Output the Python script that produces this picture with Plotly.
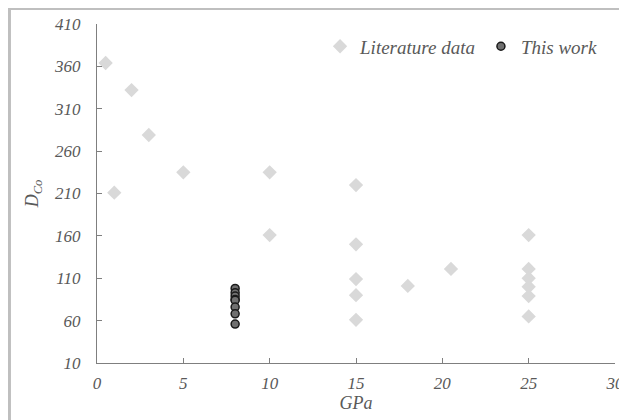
import plotly.graph_objects as go

# Literature data
lit_gpa = [0.5, 1, 2, 3, 5, 10, 10, 15, 15, 15, 15, 15, 18, 20.5, 25, 25, 25, 25, 25, 25]
lit_dco = [364, 211, 332, 279, 235, 235, 161, 220, 150, 109, 90, 61, 101, 121, 161, 121, 110, 100, 89, 65]

# This work
work_gpa = [8, 8, 8, 8, 8, 8, 8, 8]
work_dco = [98, 93, 89, 85, 84, 76, 68, 56]

x_ticks = [0, 5, 10, 15, 20, 25, 30]
y_ticks = [10, 60, 110, 160, 210, 260, 310, 360, 410]

FONT = "Liberation Serif"
GRAY_TXT = "#595959"
AXIS = "#7f7f7f"

fig = go.Figure()
fig.add_trace(go.Scatter(
    x=lit_gpa, y=lit_dco, mode="markers", name="Literature data",
    marker=dict(symbol="diamond", size=11, color="#d9d9d9", line=dict(width=0)),
))
fig.add_trace(go.Scatter(
    x=work_gpa, y=work_dco, mode="markers", name="This work",
    marker=dict(symbol="circle", size=8, color="#707070", line=dict(width=1.5, color="#1a1a1a")),
))

fig.update_layout(
    width=627, height=420,
    margin=dict(l=89, r=20, t=16, b=65, autoexpand=False),
    paper_bgcolor="white", plot_bgcolor="white",
    showlegend=True,
    legend=dict(orientation="h", x=0.975, xanchor="right", y=0.99, yanchor="top",
                font=dict(family=FONT, size=19, color=GRAY_TXT, style="italic"),
                bgcolor="rgba(0,0,0,0)", itemwidth=30, tracegroupgap=0),
    font=dict(family=FONT, color=GRAY_TXT),
    shapes=[dict(type="rect", xref="paper", yref="paper",
                 x0=-0.169, x1=1.036, y0=-0.187, y1=1.0457,
                 line=dict(color="#bfbfbf", width=3), fillcolor="rgba(0,0,0,0)", layer="below")],
)
fig.update_xaxes(
    range=[0, 30], tickvals=x_ticks, ticktext=[str(v) for v in x_ticks],
    showgrid=False, zeroline=False, showline=True, linecolor=AXIS, linewidth=1.3,
    ticks="inside", ticklen=5, tickcolor=AXIS, tickwidth=1, ticklabelstandoff=4,
    ticklabeloverflow="allow",
    tickfont=dict(family=FONT, size=17, color=GRAY_TXT, style="italic"),
    title=dict(text="GPa", font=dict(family=FONT, size=18, color=GRAY_TXT, style="italic"), standoff=4),
)
fig.update_yaxes(
    range=[10, 410], tickvals=y_ticks, ticktext=[str(v) for v in y_ticks],
    showgrid=False, zeroline=False, showline=True, linecolor=AXIS, linewidth=1.3,
    ticks="inside", ticklen=5, tickcolor=AXIS, tickwidth=1, ticklabelstandoff=12,
    tickfont=dict(family=FONT, size=17, color=GRAY_TXT, style="italic"),
    title=dict(text="D<sub>Co</sub>", font=dict(family=FONT, size=18, color=GRAY_TXT, style="italic"), standoff=10),
)

fig.write_html(
    "out.html",
    post_script="document.documentElement.style.overflow='hidden';document.body.style.overflow='hidden';",
)
